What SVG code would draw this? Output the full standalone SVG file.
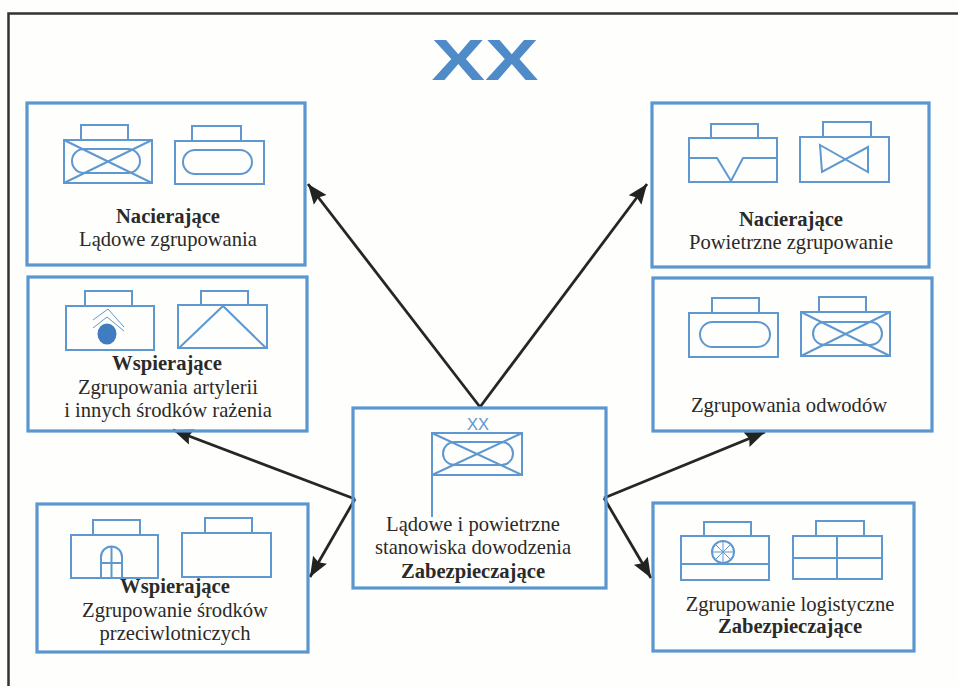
<svg xmlns="http://www.w3.org/2000/svg" width="958" height="686" viewBox="0 0 958 686">
<style>
.box{fill:none;stroke:#5a96d0;stroke-width:3.2}
.s{fill:none;stroke:#5f98d0;stroke-width:2}
.t{font-family:"Liberation Serif","Times New Roman",serif;font-size:20.6px;fill:#2a2a2a;text-anchor:middle}
.b{font-weight:bold}
.c{fill:none;stroke:#262626;stroke-width:2.800}
</style>
<defs>
<marker id="ah" markerUnits="userSpaceOnUse" markerWidth="22" markerHeight="20" refX="20" refY="10" orient="auto"><path d="M0 2L20 10L0 18L3 10Z" fill="#222"/></marker>
</defs>
<rect width="958" height="686" fill="#fefefc"/>
<path id="frame" d="M8.500 686V13.500H958" fill="none" stroke="#333" stroke-width="2.500"/>
<text id="title" x="485" y="80" font-family="Liberation Sans,sans-serif" font-weight="bold" font-size="58" fill="#4f8bc8" text-anchor="middle" textLength="107" lengthAdjust="spacingAndGlyphs">XX</text>
<g id="connectors">
<path class="c" marker-end="url(#ah)" d="M480 407L308 184"/>
<path class="c" marker-end="url(#ah)" d="M480 407L647 184"/>
<path class="c" marker-end="url(#ah)" d="M355 499L173 430"/>
<path class="c" marker-end="url(#ah)" d="M355 499L310 577"/>
<path class="c" marker-end="url(#ah)" d="M604 498L765 432"/>
<path class="c" marker-end="url(#ah)" d="M604 498L651 578"/>
</g>
<g id="n1"><rect class="box" x="27" y="103" width="278" height="162"/>
<path class="s" d="M64 140H152V183H64ZM81 140V125H128V140M64 140L152 183M152 140L64 183"/><rect class="s" x="72" y="149" width="68" height="24" rx="12"/>
<path class="s" d="M175 141H264V184H175ZM192 141V126H241V141"/><rect class="s" x="183" y="150" width="69" height="24" rx="12"/>
<text class="t b" x="168" y="223">Nacierające</text><text class="t" x="168" y="246">Lądowe zgrupowania</text></g>
<g id="n2"><rect class="box" x="28" y="277" width="279" height="154"/>
<path class="s" d="M66 306H154V350H66ZM85 306V291H132V306"/><path class="s" style="stroke-width:1" d="M93 320L108 309L124 327M93 328L107 317L124 331"/><ellipse cx="107" cy="334" rx="9.500" ry="10.500" fill="#3f7cc0"/>
<path class="s" d="M178 305H267V348H178ZM201 305V291H248V305M179 348L223 306L266 348"/>
<text class="t b" x="167" y="370">Wspierające</text><text class="t" x="168" y="394">Zgrupowania artylerii</text><text class="t" x="168" y="417">i innych środków rażenia</text></g>
<g id="n3"><rect class="box" x="37" y="504" width="271" height="148"/>
<path class="s" d="M71 535H158V578H71ZM93 535V520H140V535"/><path class="s" d="M101 578V557A10.500 10.500 0 0 1 122 557V578M111.500 547V578M101 563H122"/>
<path class="s" d="M182 533H271V577H182ZM205 533V518H252V533"/>
<text class="t b" x="175" y="593">Wspierające</text><text class="t" x="175" y="617">Zgrupowanie środków</text><text class="t" x="175" y="640">przeciwlotniczych</text></g>
<g id="n4"><rect class="box" x="353" y="408" width="253" height="180"/>
<path class="s" d="M432 433H522V475H432ZM432 475V517M432 433L522 475M522 433L432 475"/><rect class="s" x="443" y="442" width="70" height="23" rx="11.500"/>
<text x="478" y="430" font-family="Liberation Sans,sans-serif" font-size="16.500" fill="#5f98d0" text-anchor="middle">XX</text>
<text class="t" x="473" y="531">Lądowe i powietrzne</text><text class="t" x="473" y="554">stanowiska dowodzenia</text><text class="t b" x="473" y="578">Zabezpieczające</text></g>
<g id="n5"><rect class="box" x="652" y="103" width="277" height="164"/>
<path class="s" d="M689 138H777V182H689ZM711 138V124H758V138M689 158H717L731 181L743 158H777"/>
<path class="s" d="M800 137H889V182H800ZM823 137V122H871V137M820 145L868 172V147L822 172Z"/>
<text class="t b" x="791" y="226">Nacierające</text><text class="t" x="791" y="249">Powietrzne zgrupowanie</text></g>
<g id="n6"><rect class="box" x="653" y="278" width="279" height="153"/>
<path class="s" d="M689 313H778V357H689ZM712 313V298H759V313"/><rect class="s" x="700" y="322" width="70" height="25" rx="12.500"/>
<path class="s" d="M801 312H890V356H801ZM819 312V297H866V312M801 312L890 356M890 312L801 356"/><rect class="s" x="813" y="322" width="69" height="23" rx="11.500"/>
<text class="t" x="789" y="412">Zgrupowania odwodów</text></g>
<g id="n7"><rect class="box" x="653" y="503" width="261" height="148"/>
<path class="s" d="M681 536H769V580H681ZM704 536V522H751V536M681 564H769"/><circle class="s" cx="723" cy="552" r="11"/><path class="s" style="stroke-width:1" d="M712 552H734M723 541V563M715 544L731 560M731 544L715 560"/>
<path class="s" d="M793 536H882V579H793ZM816 536V521H864V536M793 558H882M837 536V579"/>
<text class="t" x="790" y="611">Zgrupowanie logistyczne</text><text class="t b" x="790" y="633">Zabezpieczające</text></g>
</svg>
